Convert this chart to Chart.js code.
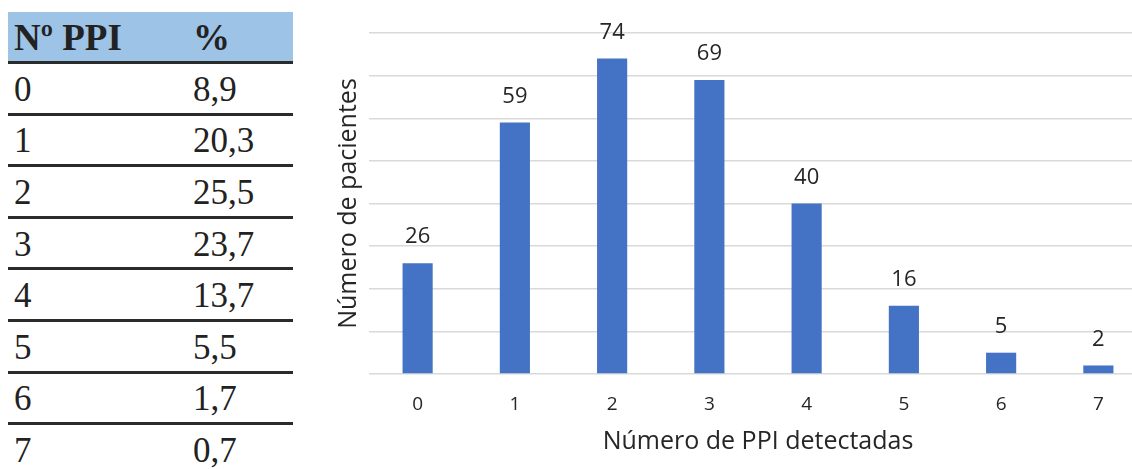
<!DOCTYPE html>
<html>
<head>
<meta charset="utf-8">
<script src="https://cdn.jsdelivr.net/npm/chart.js@4.4.1/dist/chart.umd.min.js"></script>
<style>
  html, body { margin: 0; padding: 0; background: #fff; width: 1132px; height: 469px; overflow: hidden; position: relative; }
  #tabla { position: absolute; left: 8px; top: 12px; width: 285px; font-family: "Liberation Serif", "Times New Roman", serif; color: #222; }
  #tabla .fila { position: absolute; left: 0; width: 285px; box-sizing: border-box; }
  #tabla .cab { background: #9dc3e6; font-weight: bold; }
  #tabla .fila span { position: absolute; top: 50%; transform: translateY(-50%); font-size: 35px; line-height: 1; }
  #tabla .cab span { font-size: 37px; }
  #tabla .c1 { left: 6px; }
  #tabla .c2 { left: 185px; }
  #tabla .linea { position: absolute; left: 0; width: 285px; height: 3px; background: #2b2b2b; }
  #grafico { position: absolute; left: 320px; top: 0; width: 827px; height: 469px; }
</style>
</head>
<body>
<div id="tabla"></div>
<div id="grafico"><canvas id="c"></canvas></div>
<script>
// Number of PPIs detected per patient
const categorias = ['0', '1', '2', '3', '4', '5', '6', '7'];
const pacientes = [26, 59, 74, 69, 40, 16, 5, 2];
const porcentajes = [8.9, 20.3, 25.5, 23.7, 13.7, 5.5, 1.7, 0.7];
const yTicks = [0, 10, 20, 30, 40, 50, 60, 70, 80];

// Summary table: Nº PPI / %
const tabla = document.getElementById('tabla');
const cabAlto = 50, filaAlto = 51.6;
const cab = document.createElement('div');
cab.className = 'fila cab';
cab.style.top = '0px';
cab.style.height = cabAlto + 'px';
cab.innerHTML = '<span class="c1">Nº PPI</span><span class="c2">%</span>';
tabla.appendChild(cab);
categorias.forEach((cat, i) => {
  const top = cabAlto + i * filaAlto;
  const linea = document.createElement('div');
  linea.className = 'linea';
  linea.style.top = (top - 1) + 'px';
  tabla.appendChild(linea);
  const fila = document.createElement('div');
  fila.className = 'fila';
  fila.style.top = (top + 2) + 'px';
  fila.style.height = (filaAlto - 2) + 'px';
  fila.innerHTML = '<span class="c1">' + cat + '</span><span class="c2">' +
    porcentajes[i].toFixed(1).replace('.', ',') + '</span>';
  tabla.appendChild(fila);
});

// Value labels above each bar
const etiquetasValor = {
  id: 'etiquetasValor',
  afterDatasetsDraw(chart) {
    const ctx = chart.ctx;
    const meta = chart.getDatasetMeta(0);
    ctx.save();
    ctx.font = '22px "Open Sans", sans-serif';
    ctx.fillStyle = '#262626';
    ctx.textAlign = 'center';
    ctx.textBaseline = 'middle';
    meta.data.forEach((bar, i) => {
      ctx.fillText(String(pacientes[i]), bar.x, bar.y - 26);
    });
    ctx.restore();
  }
};

new Chart(document.getElementById('c'), {
  type: 'bar',
  data: {
    labels: categorias,
    datasets: [{
      data: pacientes,
      backgroundColor: '#4472c4',
      borderWidth: 0,
      categoryPercentage: 1,
      barPercentage: 0.31
    }]
  },
  options: {
    responsive: true,
    maintainAspectRatio: false,
    animation: false,
    layout: { padding: { top: 33, right: 0, bottom: 0, left: 0 } },
    plugins: { legend: { display: false }, tooltip: { enabled: false } },
    scales: {
      x: {
        grid: { display: false },
        border: { display: false },
        ticks: { color: '#262626', font: { family: 'Open Sans', size: 19 }, padding: 11 },
        title: {
          display: true,
          text: 'Número de PPI detectadas',
          color: '#262626',
          font: { family: 'Open Sans', size: 25 },
          padding: { top: 0, bottom: 12 }
        },
        afterFit(scale) { scale.height = 95; }
      },
      y: {
        min: 0,
        max: 80,
        afterBuildTicks(scale) { scale.ticks = yTicks.map(v => ({ value: v })); },
        ticks: { display: false },
        grid: { color: '#d9d9d9', lineWidth: 1.5, drawTicks: false },
        border: { display: false },
        title: {
          display: true,
          text: 'Número de pacientes',
          color: '#262626',
          font: { family: 'Open Sans', size: 25 },
          padding: { top: 14, bottom: 0 }
        },
        afterFit(scale) { scale.width = 49; }
      }
    }
  },
  plugins: [etiquetasValor]
});
</script>
</body>
</html>
